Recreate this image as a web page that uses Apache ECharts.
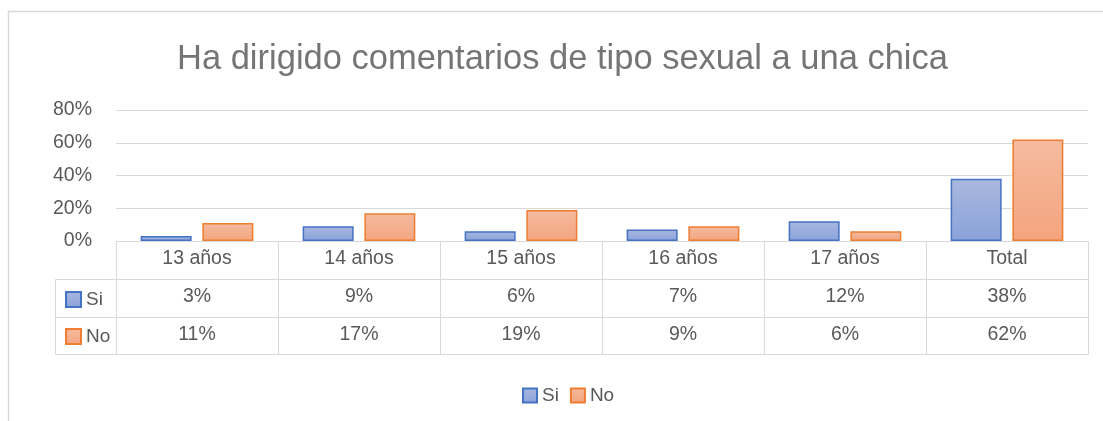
<!DOCTYPE html>
<html><head><meta charset="utf-8">
<script src="https://cdn.jsdelivr.net/npm/echarts@6/dist/echarts.min.js"></script>
<style>html,body{margin:0;padding:0;background:#fff}#c{width:1103px;height:421px}</style>
</head><body><div id="c"></div>
<script>
const titleText = 'Ha dirigido comentarios de tipo sexual a una chica';
const categories = ['13 años', '14 años', '15 años', '16 años', '17 años', 'Total'];
const seriesNames = ['Si', 'No'];
const siValues = [3, 9, 6, 7, 12, 38];
const noValues = [11, 17, 19, 9, 6, 62];
const yTicks = [0, 20, 40, 60, 80];

const FONT = '"Liberation Sans", Arial, sans-serif';
const TXT = '#595959';
const LINE = '#d9d9d9';
const ROW = 38;

const blueFill = {type:'linear',x:0,y:0,x2:0,y2:1,colorStops:[{offset:0,color:'#a9b7de'},{offset:1,color:'#8aa3db'}]};
const orangeFill = {type:'linear',x:0,y:0,x2:0,y2:1,colorStops:[{offset:0,color:'#f5bb9f'},{offset:1,color:'#f4a47e'}]};

function tableAxis(offset, fmt, showLabel, showTick) {
  return {
    type:'category', data:categories, gridIndex:0, position:'bottom', offset:offset,
    boundaryGap:true,
    axisLine:{show:true, lineStyle:{color:LINE, width:1}},
    axisTick:{show:showTick, length:ROW, lineStyle:{color:LINE, width:1}},
    axisLabel:{show:showLabel, color:TXT, fontSize:19.5, fontFamily:FONT, margin:8, formatter:fmt, interval:0},
    splitLine:{show:false}
  };
}

const chart = echarts.init(document.getElementById('c'), null, {renderer:'canvas'});
chart.setOption({
  animation:false,
  backgroundColor:'#fff',
  title:{text:titleText, left:172, top:37, textStyle:{color:'#757575', fontSize:34.5, fontWeight:'normal', fontFamily:FONT}},
  grid:{left:116, right:15, top:110, height:131},
  legend:[
    {data:seriesNames, left:517, top:381, itemWidth:14, itemHeight:14, itemGap:11,
     textStyle:{color:TXT, fontSize:19, fontFamily:FONT}, icon:'rect'},
    {data:seriesNames, orient:'vertical', left:60, top:285, itemWidth:15, itemHeight:15, itemGap:18,
     textStyle:{color:TXT, fontSize:19, fontFamily:FONT}, icon:'rect'}
  ],
  xAxis:[
    tableAxis(0, v => v, true, true),
    tableAxis(ROW, (v, i) => siValues[i] + '%', true, true),
    tableAxis(ROW*2, (v, i) => noValues[i] + '%', true, true),
    tableAxis(ROW*3 - 1, v => '', false, false)
  ],
  yAxis:{type:'value', min:0, max:80, interval:20,
    axisLine:{show:false}, axisTick:{show:false},
    axisLabel:{color:TXT, fontSize:19.5, fontFamily:FONT, margin:24, formatter: v => yTicks.includes(v) ? v + '%' : ''},
    splitLine:{lineStyle:{color:LINE, width:1}}},
  series:[
    {name:'Si', type:'bar', xAxisIndex:0, data:siValues, barWidth:51, barGap:'21%',
     itemStyle:{color:blueFill, borderColor:'#4472c4', borderWidth:1.5}},
    {name:'No', type:'bar', xAxisIndex:0, data:noValues, barWidth:51, barGap:'21%',
     itemStyle:{color:orangeFill, borderColor:'#ed7d31', borderWidth:1.5}}
  ],
  graphic:[
    {type:'rect', shape:{x:8.5, y:11.5, width:1100, height:420}, style:{fill:null, stroke:LINE, lineWidth:1.5}, silent:true, z:-10},
    {type:'rect', shape:{x:55.5, y:241+ROW+0.5, width:61, height:ROW*2-1}, style:{fill:null, stroke:LINE, lineWidth:1}, silent:true},
    {type:'line', shape:{x1:55.5, y1:241+ROW*2+0.5, x2:116, y2:241+ROW*2+0.5}, style:{stroke:LINE, lineWidth:1}, silent:true}
  ]
});
</script></body></html>
